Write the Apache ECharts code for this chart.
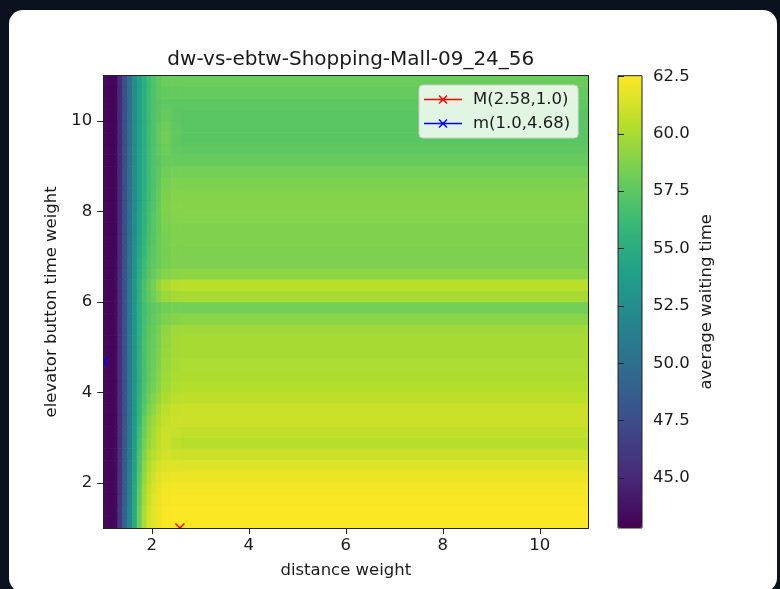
<!DOCTYPE html>
<html>
<head>
<meta charset="utf-8">
<script src="https://cdn.jsdelivr.net/npm/echarts@6/dist/echarts.min.js"></script>
<style>
html,body{margin:0;padding:0;background:#0a1220;}
#chart{width:780px;height:589px;}
</style>
</head>
<body>
<div id="chart"></div>
<script>
// ---- data ----
const chartTitle = 'dw-vs-ebtw-Shopping-Mall-09_24_56';
// cell edges along distance weight (x) and elevator button time weight (y)
const dwEdges = [1.0,1.1,1.2,1.3,1.4,1.5,1.6,1.7,1.8,1.9,2.0,2.1,2.2,2.4,2.6,11.0];
const ebtwEdges = [1.0,1.25,1.5,1.75,2.0,2.25,2.5,2.75,3.0,3.25,3.5,3.75,4.0,4.25,4.5,4.75,5.0,5.25,5.5,5.75,6.0,
  6.25,6.5,6.75,7.0,7.25,7.5,7.75,8.0,8.25,8.5,8.75,9.0,9.25,9.5,9.75,10.0,10.25,10.5,10.75,11.0];
// average waiting time, one row per ebtw band (bottom to top), one value per dw band
const waitingTime = [
  [43.3,43.0,43.2,46.0,49.0,52.0,55.0,58.0,60.0,61.2,61.8,62.1,62.4,62.5,62.5],
  [43.3,43.0,43.2,46.0,49.0,52.0,55.0,58.0,60.0,61.2,61.8,62.1,62.4,62.5,62.5],
  [43.3,43.0,43.2,45.9,48.8,51.8,54.8,57.8,59.8,61.0,61.7,62.0,62.3,62.4,62.4],
  [43.3,43.0,43.2,45.8,48.6,51.6,54.6,57.6,59.6,60.8,61.5,61.9,62.2,62.3,62.3],
  [43.3,43.0,43.2,45.8,48.5,51.5,54.4,57.3,59.3,60.5,61.2,61.6,61.9,62.0,62.0],
  [43.3,43.0,43.2,45.7,48.4,51.3,54.2,57.0,59.0,60.2,60.9,61.3,61.6,61.6,61.6],
  [43.3,43.0,43.2,45.7,48.3,51.2,54.0,56.8,58.7,59.8,60.4,60.9,61.2,61.1,61.0],
  [43.3,43.0,43.2,45.6,48.2,51.1,53.8,56.5,58.3,59.4,60.0,60.6,61.0,60.6,60.4],
  [43.3,43.0,43.2,45.6,48.2,51.0,53.7,56.3,58.1,59.2,59.9,60.6,61.0,60.8,60.7],
  [43.3,43.0,43.2,45.6,48.1,50.9,53.5,56.0,57.8,58.9,59.6,60.2,60.8,61.0,61.0],
  [43.3,43.0,43.2,45.5,48.0,50.8,53.4,55.7,57.4,58.5,59.2,59.9,60.6,60.9,61.0],
  [43.3,43.0,43.2,45.5,48.0,50.8,53.3,55.5,57.1,58.1,58.8,59.4,60.1,60.5,60.6],
  [43.3,43.0,43.2,45.5,48.0,50.8,53.2,55.3,56.9,57.8,58.4,59.0,59.8,60.2,60.3],
  [43.3,43.0,43.2,45.5,48.0,50.8,53.2,55.3,56.8,57.7,58.2,58.8,59.6,60.0,60.1],
  [43.3,43.0,43.2,45.5,48.0,50.8,53.2,55.3,56.8,57.6,58.1,58.7,59.5,59.9,60.0],
  [43.3,43.0,43.2,45.5,48.0,50.8,53.2,55.3,56.8,57.6,58.1,58.6,59.4,59.8,59.9],
  [43.3,43.0,43.2,45.5,48.0,50.8,53.2,55.3,56.8,57.6,58.0,58.5,59.3,59.8,59.9],
  [43.3,43.0,43.2,45.5,48.0,50.8,53.2,55.3,56.7,57.5,57.9,58.4,59.1,59.6,59.7],
  [43.3,43.0,43.2,45.5,48.0,50.8,53.2,55.2,56.6,57.3,57.7,58.1,58.6,58.9,59.0],
  [43.3,43.0,43.2,45.5,48.0,50.8,53.2,55.2,56.5,57.2,57.6,57.9,58.2,58.3,58.3],
  [43.3,43.0,43.2,45.5,48.0,50.8,53.2,55.3,56.8,57.6,58.2,58.9,59.5,59.8,59.9],
  [43.3,43.0,43.2,45.5,48.0,50.8,53.2,55.3,56.8,57.7,58.4,59.3,60.0,60.4,60.5],
  [43.3,43.0,43.2,45.4,47.9,50.6,53.0,55.0,56.4,57.3,57.9,58.4,58.8,59.0,59.1],
  [43.3,43.0,43.2,45.4,47.8,50.5,52.9,54.8,56.2,57.1,57.6,58.0,58.4,58.6,58.6],
  [43.3,43.0,43.1,45.3,47.8,50.4,52.8,54.6,56.0,56.9,57.5,58.0,58.4,58.6,58.6],
  [43.3,43.0,43.1,45.3,47.7,50.3,52.7,54.4,55.8,56.8,57.4,58.0,58.5,58.7,58.7],
  [43.3,43.0,43.1,45.3,47.7,50.2,52.6,54.3,55.6,56.7,57.3,57.9,58.5,58.7,58.7],
  [43.3,43.0,43.1,45.2,47.6,50.1,52.5,54.2,55.5,56.6,57.3,57.9,58.6,58.8,58.8],
  [43.3,43.0,43.1,45.2,47.6,50.0,52.4,54.1,55.4,56.5,57.2,57.9,58.7,58.9,58.9],
  [43.3,43.0,43.1,45.2,47.6,50.0,52.4,54.0,55.3,56.4,57.1,57.8,58.6,58.8,58.8],
  [43.3,43.0,43.1,45.2,47.6,50.0,52.4,54.0,55.2,56.3,57.0,57.6,58.4,58.6,58.6],
  [43.3,43.0,43.1,45.2,47.6,50.0,52.4,54.0,55.2,56.3,57.0,57.5,58.2,58.3,58.3],
  [43.3,43.0,43.1,45.2,47.6,50.0,52.4,54.0,55.2,56.3,57.0,57.4,57.9,57.9,57.9],
  [43.3,43.0,43.1,45.2,47.6,50.0,52.4,54.0,55.2,56.3,57.0,57.5,58.0,57.7,57.6],
  [43.3,43.0,43.1,45.2,47.6,50.0,52.4,54.0,55.2,56.3,57.0,57.6,58.2,57.6,57.4],
  [43.3,43.0,43.1,45.2,47.6,50.0,52.4,54.0,55.2,56.3,57.0,57.6,58.1,57.6,57.4],
  [43.3,43.0,43.1,45.2,47.6,50.0,52.4,54.0,55.2,56.3,57.0,57.4,57.8,57.5,57.4],
  [43.3,43.0,43.1,45.2,47.6,50.0,52.4,54.0,55.2,56.3,57.0,57.4,57.6,57.5,57.5],
  [43.3,43.0,43.1,45.2,47.6,50.0,52.4,54.0,55.2,56.3,57.0,57.5,57.8,57.8,57.8],
  [43.3,43.0,43.1,45.2,47.6,50.0,52.4,54.0,55.2,56.3,57.0,57.6,58.0,58.0,58.0]
];
const maxPoint = [2.58, 1.0];
const minPoint = [1.0, 4.68];
const maxLabel = 'M(2.58,1.0)';
const minLabel = 'm(1.0,4.68)';
const xTicks = [2, 4, 6, 8, 10];
const yTicks = [2, 4, 6, 8, 10];
const cbTicks = [45.0, 47.5, 50.0, 52.5, 55.0, 57.5, 60.0, 62.5];
const cbMin = 42.82, cbMax = 62.53;
const axisMin = 1, axisMax = 11;

// ---- build ----
const viridis = ['#440154','#482878','#3e4989','#31688e','#26828e','#1f9e89','#35b779','#6ece58','#b5de2b','#fde725'];
const cells = [];
for (let r = 0; r < waitingTime.length; r++) {
  for (let c = 0; c < waitingTime[r].length; c++) {
    cells.push([dwEdges[c], dwEdges[c + 1], ebtwEdges[r], ebtwEdges[r + 1], waitingTime[r][c]]);
  }
}
const FONT = 'DejaVu Sans';
const TXT = '#1a1a1a';
const gx = 103.3, gy = 75.7, gw = 485, gh = 452.3;
const cbx = 618, cbw = 24;

function markerSeries(name, pt, color) {
  return {
    type: 'custom', name: name, coordinateSystem: 'cartesian2d', xAxisIndex: 0, yAxisIndex: 0,
    clip: true, z: 5, itemStyle: { color: color }, data: [pt],
    renderItem: function (params, api) {
      const p = api.coord([api.value(0), api.value(1)]);
      const s = 4.5;
      return { type: 'group', children: [
        { type: 'line', shape: { x1: p[0] - s, y1: p[1] - s, x2: p[0] + s, y2: p[1] + s }, style: { stroke: color, lineWidth: 1.5 } },
        { type: 'line', shape: { x1: p[0] - s, y1: p[1] + s, x2: p[0] + s, y2: p[1] - s }, style: { stroke: color, lineWidth: 1.5 } }
      ] };
    }
  };
}
const legendIcon = 'path://M0,4.3L38,4.3L38,5.7L0,5.7Z M14.5,1.5L15.5,0.5L23.5,8.5L22.5,9.5Z M22.5,0.5L23.5,1.5L15.5,9.5L14.5,8.5Z';

const chart = echarts.init(document.getElementById('chart'), null, { renderer: 'canvas' });
chart.setOption({
  backgroundColor: '#0a1220',
  animation: false,
  graphic: [
    { type: 'rect', z: -10, shape: { x: 9, y: 10, width: 768, height: 582, r: 14 }, style: { fill: '#ffffff' } },
    { type: 'rect', z: 100, shape: { x: cbx, y: gy, width: cbw, height: gh }, style: { fill: null, stroke: '#222', lineWidth: 1 } }
  ],
  title: {
    text: chartTitle, left: gx + gw / 2, top: 45, textAlign: 'center',
    textStyle: { fontFamily: FONT, fontSize: 20, fontWeight: 'normal', color: TXT }
  },
  legend: {
    orient: 'vertical', left: 419, top: 85,
    padding: [6, 8, 6, 5], itemGap: 7, itemWidth: 38, itemHeight: 10,
    backgroundColor: 'rgba(255,255,255,0.82)', borderColor: '#cccccc', borderWidth: 1, borderRadius: 4,
    textStyle: { fontFamily: FONT, fontSize: 16.5, color: TXT, padding: [0, 0, 0, 6] },
    data: [{ name: maxLabel, icon: legendIcon }, { name: minLabel, icon: legendIcon }]
  },
  visualMap: {
    type: 'continuous', seriesIndex: 0, dimension: 4, min: cbMin, max: cbMax,
    calculable: false, text: null, showLabel: false, padding: 0,
    left: cbx, top: gy, itemWidth: cbw, itemHeight: gh,
    inRange: { color: viridis }, hoverLink: false
  },
  grid: [
    { left: gx, top: gy, width: gw, height: gh, containLabel: false },
    { left: cbx, top: gy, width: cbw, height: gh, containLabel: false }
  ],
  xAxis: [
    {
      type: 'value', gridIndex: 0, min: axisMin, max: axisMax, z: 10,
      name: 'distance weight', nameLocation: 'middle', nameGap: 34,
      nameTextStyle: { fontFamily: FONT, fontSize: 16.5, color: TXT },
      axisLine: { show: true, lineStyle: { color: '#222', width: 1 } },
      axisTick: { show: true, length: 6, lineStyle: { color: '#222' }, customValues: xTicks },
      axisLabel: { fontFamily: FONT, fontSize: 16.5, color: TXT, margin: 9, customValues: xTicks },
      splitLine: { show: false }
    },
    {
      type: 'value', gridIndex: 0, min: axisMin, max: axisMax, position: 'top', z: 10,
      axisLine: { show: true, lineStyle: { color: '#222', width: 1 } },
      axisTick: { show: false }, axisLabel: { show: false }, splitLine: { show: false }
    },
    { type: 'value', gridIndex: 1, min: 0, max: 1, show: false }
  ],
  yAxis: [
    {
      type: 'value', gridIndex: 0, min: axisMin, max: axisMax, z: 10,
      name: 'elevator button time weight', nameLocation: 'middle', nameGap: 35, nameRotate: 90,
      nameTextStyle: { fontFamily: FONT, fontSize: 16.5, color: TXT },
      axisLine: { show: true, lineStyle: { color: '#222', width: 1 } },
      axisTick: { show: true, length: 6, lineStyle: { color: '#222' }, customValues: yTicks },
      axisLabel: { fontFamily: FONT, fontSize: 16.5, color: TXT, margin: 11, customValues: yTicks },
      splitLine: { show: false }
    },
    {
      type: 'value', gridIndex: 0, min: axisMin, max: axisMax, position: 'right', z: 10,
      axisLine: { show: true, lineStyle: { color: '#222', width: 1 } },
      axisTick: { show: false }, axisLabel: { show: false }, splitLine: { show: false }
    },
    {
      type: 'value', gridIndex: 1, min: cbMin, max: cbMax, position: 'right', z: 10,
      name: 'average waiting time', nameLocation: 'middle', nameGap: 56, nameRotate: 90,
      nameTextStyle: { fontFamily: FONT, fontSize: 16.5, color: TXT },
      axisLine: { show: false },
      axisTick: { show: true, length: 6, lineStyle: { color: '#222' }, customValues: cbTicks },
      axisLabel: { fontFamily: FONT, fontSize: 16.5, color: TXT, margin: 11, customValues: cbTicks,
        formatter: function (v) { return Number(v).toFixed(1); } },
      splitLine: { show: false }
    }
  ],
  series: [
    {
      type: 'custom', name: 'average waiting time', coordinateSystem: 'cartesian2d',
      xAxisIndex: 0, yAxisIndex: 0, clip: true, z: 2, silent: true,
      dimensions: ['dw0', 'dw1', 'ebtw0', 'ebtw1', 'wait'],
      encode: { x: [0, 1], y: [2, 3] },
      data: cells,
      renderItem: function (params, api) {
        const p0 = api.coord([api.value(0), api.value(3)]);
        const p1 = api.coord([api.value(1), api.value(2)]);
        const color = api.visual('color');
        return {
          type: 'rect',
          shape: { x: p0[0], y: p0[1], width: p1[0] - p0[0], height: p1[1] - p0[1] },
          style: { fill: color, stroke: color, lineWidth: 0.8 }
        };
      }
    },
    markerSeries(maxLabel, maxPoint, '#ff0000'),
    markerSeries(minLabel, minPoint, '#0000ff')
  ]
});
</script>
</body>
</html>
